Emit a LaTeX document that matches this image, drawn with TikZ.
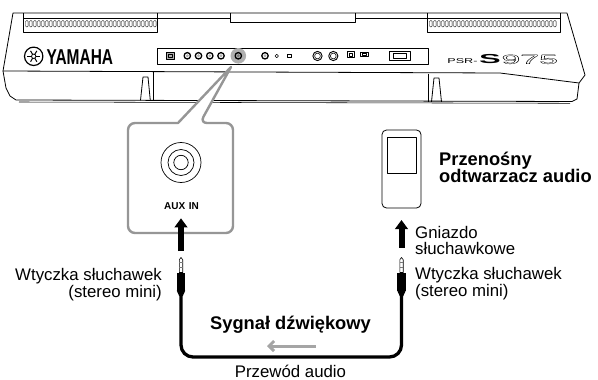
\documentclass[tikz,border=0pt]{standalone}
\usepackage{fontspec}
\setmainfont{Liberation Sans}
\usetikzlibrary{arrows.meta}
\definecolor{calloutgray}{RGB}{150,150,150}
\definecolor{signalgray}{RGB}{165,165,165}
\definecolor{jackgray}{RGB}{175,175,175}
\definecolor{pingray}{RGB}{120,120,120}

\begin{document}
\begin{tikzpicture}[x=1pt,y=-1pt,line join=round,
  body/.style={line width=0.8pt},
  fine/.style={line width=0.55pt},
  slot/.style={line width=0.45pt, rounded corners=1.1pt},
  jackring/.style={line width=1.3pt},
  callout/.style={draw=calloutgray, line width=2.4pt, fill=white},
  blackarrow/.style={line width=6pt, -{Triangle[width=12.5pt,length=9pt]}},
  signalarrow/.style={line width=3pt, draw=signalgray, -{Straight Barb[length=5pt,width=10pt]}},
  cable/.style={line width=3.3pt, rounded corners=12pt},
  lbl/.style={inner sep=0pt, font=\fontsize{16.8}{18}\selectfont},
  heading/.style={inner sep=0pt, font=\bfseries\fontsize{18.3}{18}\selectfont},
  plug/.pic={
    % metal tip with two bands
    \draw[line width=0.6pt, fill=white] (-1.7,15) -- (-1.7,2.2) -- (0,0) -- (1.7,2.2) -- (1.7,15) -- cycle;
    \fill[pingray] (-1.7,4.6) rectangle (1.7,5.8);
    \fill[pingray] (-1.7,9) rectangle (1.7,10.2);
    % moulded plug body tapering into the cable
    \fill[black] (-4.3,15) rectangle (4.3,33);
    \fill[black] (-4.3,33) -- (4.3,33) -- (1.8,38.5) -- (-1.8,38.5) -- cycle;
  }
]
\useasboundingbox (0,0) rectangle (598,380);

%--------------------------------------------------------------- keyboard rear
\draw[body] (13,13) -- (567,13) -- (585,75) -- (579,83) -- (577,99) -- (572,101.5)
  -- (16,100) -- (10,96) -- (6,88) -- (3,71) -- cycle;
\draw[fine] (19,102) -- (570,103.3);
\draw[body] (3,71) -- (500,73) -- (579,83);

% top tray and speaker grilles
\draw[body] (23,13) -- (23,32) -- (157,32) -- (157,13);
\draw[body] (23,18) -- (230,18);
\draw[body] (230,13) -- (230,22) -- (355,22) -- (355,13);
\draw[body] (355,18) -- (560,18);
\draw[body] (427,13) -- (427,32) -- (560,32) -- (560,13);
\foreach \sx in {25.5,29.5,...,153.5} \draw[slot] (\sx,20.5) rectangle ++(2.7,6.5);
\foreach \sx in {429.5,433.5,...,556} \draw[slot] (\sx,20.5) rectangle ++(2.7,6.5);

% feet
\draw[body] (153,72) -- (153,100.5);
\draw[body] (140.5,100.3) -- (143,77) -- (148,77) -- (150.3,100.4);
\draw[body] (428.3,73.5) -- (428.3,101.8);
\draw[body] (431.5,101.8) -- (434,78) -- (439,78) -- (441.5,101.9);

% logo
\draw[line width=1.2pt] (33.7,56.3) circle (9.2);
\foreach \a in {0,60,120} \draw[line width=1pt] (33.7,56.3) ++(\a:6.3) -- ++(\a+180:12.6);
\fill[white] (33.7,56.3) circle (2.2);
\draw[line width=0.8pt] (33.7,56.3) circle (2.2);
\node[inner sep=0pt, anchor=base west, font=\bfseries\fontsize{21.5}{21.5}\selectfont,
  xscale=0.72, transform shape] (brand) at (46.5,64.5) {YAMAHA};

% model name
\node[inner sep=0pt, anchor=base west, font=\fontsize{7}{7}\selectfont,
  xscale=1.8, transform shape] (series) at (447,63.5) {PSR-};
\node[inner sep=0pt, anchor=base west, font=\bfseries\fontsize{13}{13}\selectfont,
  xscale=2.5, transform shape] (modelS) at (478.5,63.8) {S};
\node[inner sep=0pt, anchor=base west, font=\fontsize{13}{13}\selectfont,
  xscale=2.6, transform shape] (model975) at (501,63.8)
  {\special{pdf:literal direct 1 Tr 0.25 w}975\special{pdf:literal direct 0 Tr}};

% rear connector panel
\draw[body] (157,48.5) rectangle (428,64.5);
\draw[fine, fill=jackgray] (166.5,52.2) rectangle (174,59.5);
\draw[fine] (168.3,54) rectangle (172.2,57.7);
\foreach \jx in {187.3,198.5,209.8,221} {
  \fill[jackgray] (\jx,55.8) circle (1.6);
  \draw[jackring] (\jx,55.8) circle (3.2);
}
\fill[jackgray] (238.3,55.8) circle (7.8);
\fill[pingray] (238.3,55.8) circle (1.6);
\draw[jackring] (238.3,55.8) circle (3.2);
\fill[jackgray] (265,55.8) circle (1.6);
\draw[jackring] (265,55.8) circle (3.2);
\draw[fine] (276.7,56) circle (1.7);
\draw[fine] (287.6,54) rectangle (291,57.5);
\foreach \jx in {317.5,333.3} {
  \draw[line width=0.9pt] (\jx,56) circle (4.6);
  \draw[fine] (\jx,56) circle (2.9);
}
\draw[line width=0.9pt] (347.5,51.3) rectangle (354,57.5);
\draw[fine] (349.3,53) rectangle (352.2,55.8);
\draw[line width=0.9pt] (360.5,52) rectangle (368,56.3);
\draw[fine] (362,53.2) rectangle (366.5,55.1);
\draw[line width=0.9pt] (389.5,51.5) rectangle (410,60);
\draw[fine] (393,53.3) rectangle (406.5,58.2);

%--------------------------------------------------------------- AUX IN callout
\draw[callout] (200,123) -- (231,67) -- (178,123)
  [rounded corners=7pt] -- (128,123) -- (128,233) -- (233,233) -- (233,123) -- cycle;
\coordinate (auxjack) at (181,162.5);
\draw[line width=0.7pt] (auxjack) circle (20) (auxjack) circle (13) (auxjack) circle (7.2);
\node[inner sep=0pt, anchor=base, font=\bfseries\fontsize{10}{10}\selectfont] (auxlbl)
  at (181.5,209.5) {AUX\hspace{3.5pt}IN};

%--------------------------------------------------------------- portable player
\draw[body, rounded corners=4.5pt] (382,130) rectangle (421,208);
\draw[fine] (387,137) rectangle (416,173);
\node[heading, anchor=base west] (player1) at (439,165.7) {Przenośny};
\node[heading, anchor=base west] (player2) at (439,182.7) {odtwarzacz audio};

%--------------------------------------------------------------- plugs, arrows, cable
\coordinate (auxin) at (181,218.3);
\coordinate (auxarrowfoot) at (181,251);
\coordinate (phones) at (401.5,220);
\coordinate (phonesarrowfoot) at (401.5,247.5);
\coordinate (plugL) at (181,257.5);
\coordinate (plugR) at (401.5,257.5);
\coordinate (cableL) at (181,295.5);
\coordinate (cableR) at (401.5,295.5);

\draw[blackarrow] (auxarrowfoot) -- (auxin);
\draw[blackarrow] (phonesarrowfoot) -- (phones);
\pic at (plugL) {plug};
\pic at (plugR) {plug};
\draw[cable] (cableL) -- (181,357) -- (401.5,357) -- (cableR);
\draw[signalarrow] (316,346) -- (267,346);

%--------------------------------------------------------------- labels
\node[lbl, anchor=base east] (plugLline1) at (162,280) {Wtyczka słuchawek};
\node[lbl, anchor=base east] (plugLline2) at (162,297) {(stereo mini)};
\node[lbl, anchor=base west] (jackR1) at (415,238) {Gniazdo};
\node[lbl, anchor=base west] (jackR2) at (415,254) {słuchawkowe};
\node[lbl, anchor=base west] (plugRline1) at (415,279.5) {Wtyczka słuchawek};
\node[lbl, anchor=base west] (plugRline2) at (415,296) {(stereo mini)};
\node[heading, anchor=base] (signal) at (290.5,329) {Sygnał dźwiękowy};
\node[lbl, anchor=base] (cablelbl) at (290.5,377.5) {Przewód audio};
\end{tikzpicture}
\end{document}
